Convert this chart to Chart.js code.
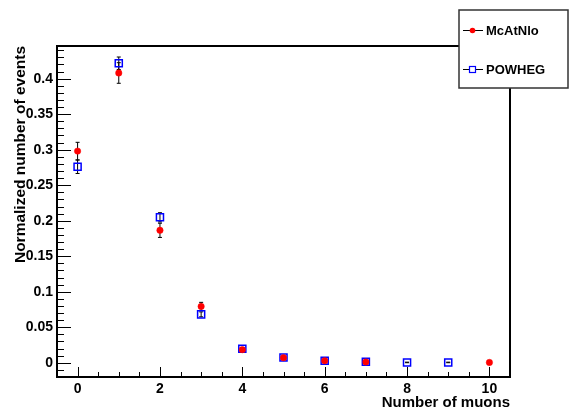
<!DOCTYPE html>
<html>
<head>
<meta charset="utf-8">
<script src="https://cdn.jsdelivr.net/npm/chart.js@4.4.0/dist/chart.umd.min.js"></script>
<style>
  body { margin: 0; background: #fff; }
</style>
</head>
<body>
<canvas id="muonChart" width="580" height="412"></canvas>
<script>
// Number of muons per event, normalized
const mcatnloMuons = [0, 1, 2, 3, 4, 5, 6, 7, 10];
const mcatnloValues = [0.298, 0.408, 0.1865, 0.0794, 0.0185, 0.0072, 0.0028, 0.0012, 0.0005];
const mcatnloErrors = [0.0124, 0.0145, 0.0100, 0.0057, 0.0028, 0.0017, 0.0010, 0.0006, 0.0005];

const powhegMuons = [0, 1, 2, 3, 4, 5, 6, 7, 8, 9];
const powhegValues = [0.276, 0.4217, 0.2048, 0.0682, 0.0198, 0.0074, 0.0028, 0.0014, 0.0005, 0.0005];
const powhegErrors = [0.0095, 0.0088, 0.0065, 0.0035, 0.0018, 0.0011, 0.0007, 0.0005, 0.0004, 0.0004];

const xTicks = [0, 2, 4, 6, 8, 10];
const yTicks = [0, 0.05, 0.1, 0.15, 0.2, 0.25, 0.3, 0.35, 0.4];

const fontFamily = "'Liberation Sans', Arial, Helvetica, sans-serif";

function toPoints(xs, ys) {
    return xs.map((x, i) => ({ x: x, y: ys[i] }));
}

// error bars, frame, inward ticks and the legend box
const rootStyle = {
    id: 'rootStyle',
    beforeDatasetsDraw(chart) {
        const ctx = chart.ctx;
        const yScale = chart.scales.y;
        ctx.save();
        ctx.strokeStyle = '#000';
        ctx.lineWidth = 1;
        chart.data.datasets.forEach((ds, di) => {
            const meta = chart.getDatasetMeta(di);
            meta.data.forEach((pt, i) => {
                const v = ds.data[i].y;
                const e = ds.errors[i];
                const top = yScale.getPixelForValue(v + e);
                const bot = yScale.getPixelForValue(v - e);
                ctx.beginPath();
                ctx.moveTo(pt.x, top);
                ctx.lineTo(pt.x, bot);
                ctx.moveTo(pt.x - 2, top);
                ctx.lineTo(pt.x + 2, top);
                ctx.moveTo(pt.x - 2, bot);
                ctx.lineTo(pt.x + 2, bot);
                ctx.stroke();
            });
        });
        ctx.restore();
    },
    afterDraw(chart) {
        const ctx = chart.ctx;
        const a = chart.chartArea;
        const xs = chart.scales.x;
        const ys = chart.scales.y;
        ctx.save();

        // ticks pointing inward
        ctx.strokeStyle = '#000';
        ctx.lineWidth = 1;
        ctx.beginPath();
        for (let k = -1; k <= 44; k++) {
            const v = k / 100;
            const py = Math.round(ys.getPixelForValue(v)) + 0.5;
            const len = (k % 5 === 0) ? 14 : 7;
            ctx.moveTo(a.left, py);
            ctx.lineTo(a.left + len, py);
        }
        for (let k = 0; k <= 20; k++) {
            const v = k / 2;
            const px = Math.round(xs.getPixelForValue(v)) + 0.5;
            const len = (k % 4 === 0) ? 10 : 5;
            ctx.moveTo(px, a.bottom);
            ctx.lineTo(px, a.bottom - len);
        }
        ctx.stroke();

        // frame
        ctx.lineWidth = 2;
        ctx.strokeRect(a.left, a.top, a.right - a.left, a.bottom - a.top);

        // legend box
        const bx = 459, by = 10, bw = 109, bh = 78;
        ctx.fillStyle = '#fff';
        ctx.fillRect(bx, by, bw, bh);
        ctx.strokeStyle = '#333';
        ctx.lineWidth = 1.5;
        ctx.strokeRect(bx, by, bw, bh);

        const rows = [30, 69];
        chart.data.datasets.forEach((ds, di) => {
            const ry = rows[di];
            ctx.strokeStyle = '#000';
            ctx.lineWidth = 1;
            ctx.beginPath();
            ctx.moveTo(463, ry + 0.5);
            ctx.lineTo(483, ry + 0.5);
            ctx.stroke();
            if (ds.pointStyle === 'circle') {
                ctx.fillStyle = ds.backgroundColor;
                ctx.beginPath();
                ctx.arc(472.5, ry + 0.5, 2.8, 0, Math.PI * 2);
                ctx.fill();
            } else {
                ctx.fillStyle = '#fff';
                ctx.fillRect(469.5, ry - 2.5, 6, 6);
                ctx.strokeStyle = ds.borderColor;
                ctx.lineWidth = 1.2;
                ctx.strokeRect(469.5, ry - 2.5, 6, 6);
            }
            ctx.fillStyle = '#000';
            ctx.font = 'bold 13px ' + fontFamily;
            ctx.textBaseline = 'middle';
            ctx.textAlign = 'left';
            ctx.fillText(ds.label, 486, ry + 1);
        });
        ctx.restore();
    }
};

const muonChart = new Chart(document.getElementById('muonChart'), {
    type: 'scatter',
    data: {
        datasets: [
            {
                label: 'McAtNlo',
                data: toPoints(mcatnloMuons, mcatnloValues),
                errors: mcatnloErrors,
                pointStyle: 'circle',
                pointRadius: 3.2,
                pointHoverRadius: 3.2,
                backgroundColor: '#ff0000',
                borderColor: '#ff0000',
                borderWidth: 0.5
            },
            {
                label: 'POWHEG',
                data: toPoints(powhegMuons, powhegValues),
                errors: powhegErrors,
                pointStyle: 'rect',
                pointRadius: 5,
                pointHoverRadius: 5,
                backgroundColor: 'rgba(0,0,0,0)',
                borderColor: '#0000ff',
                borderWidth: 1.5
            }
        ]
    },
    options: {
        responsive: false,
        animation: false,
        events: [],
        layout: {
            padding: { top: 46, right: 70, left: 0, bottom: 0 }
        },
        plugins: {
            legend: { display: false },
            tooltip: { enabled: false }
        },
        scales: {
            x: {
                type: 'linear',
                min: -0.5,
                max: 10.5,
                afterBuildTicks: s => { s.ticks = xTicks.map(v => ({ value: v })); },
                afterFit: s => { s.height = 35; },
                grid: { display: false, drawTicks: false },
                border: { display: false },
                ticks: {
                    padding: 4,
                    maxRotation: 0,
                    color: '#000',
                    font: { family: fontFamily, size: 14, weight: 'bold' },
                    callback: v => String(v)
                },
                title: {
                    display: true,
                    text: 'Number of muons',
                    align: 'end',
                    color: '#000',
                    padding: { top: 0, bottom: 0 },
                    font: { family: fontFamily, size: 15, weight: 'bold' }
                }
            },
            y: {
                type: 'linear',
                min: -0.02,
                max: 0.446,
                afterBuildTicks: s => { s.ticks = yTicks.map(v => ({ value: v })); },
                afterFit: s => { s.width = 57; },
                grid: { display: false, drawTicks: false },
                border: { display: false },
                ticks: {
                    padding: 4,
                    color: '#000',
                    font: { family: fontFamily, size: 14, weight: 'bold' },
                    callback: v => String(+v.toFixed(2))
                },
                title: {
                    display: true,
                    text: 'Normalized number of events',
                    align: 'end',
                    color: '#000',
                    padding: { top: 11, bottom: 0 },
                    font: { family: fontFamily, size: 15.5, weight: 'bold' }
                }
            }
        }
    },
    plugins: [rootStyle]
});
</script>
</body>
</html>
